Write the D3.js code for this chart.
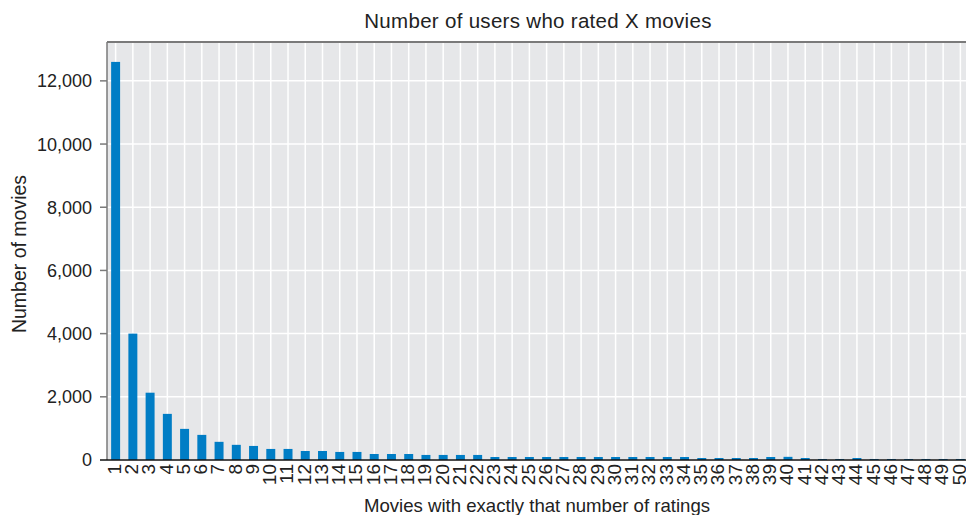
<!DOCTYPE html>
<html>
<head>
<meta charset="utf-8">
<script src="https://cdn.jsdelivr.net/npm/d3@7"></script>
<style>
  html, body { margin: 0; padding: 0; background: #fff; }
  svg { display: block; }
  text { font-family: "Liberation Sans", Arial, Helvetica, sans-serif; fill: #222; }
</style>
</head>
<body>
<svg id="chart" width="966" height="515"></svg>
<script>
// ---- data ----
const categories = d3.range(1, 51).map(String);
const movieCounts = [
  12600, 4000, 2130, 1460, 985, 795, 575, 480, 445, 350,
  350, 285, 285, 255, 255, 190, 190, 190, 160, 160,
  160, 160, 95, 95, 95, 95, 95, 95, 95, 95,
  95, 95, 95, 95, 63, 63, 63, 63, 95, 100,
  63, 32, 32, 63, 32, 32, 32, 32, 32, 32
];
const yTickValues = [0, 2000, 4000, 6000, 8000, 10000, 12000];
const titleText = "Number of users who rated X movies";
const xTitleText = "Movies with exactly that number of ratings";
const yTitleText = "Number of movies";

// ---- layout ----
const L = 107, T = 42, B = 460, R = 969;
const svg = d3.select("#chart");

const x = d3.scaleBand().domain(categories).range([L, R]).paddingInner(0.48).paddingOuter(0.24);
const y = d3.scaleLinear().domain([0, 13230]).range([B, T]);

// panel background
svg.append("rect").attr("x", L).attr("y", T).attr("width", R - L).attr("height", B - T).attr("fill", "#e6e7e9");

// gridlines
svg.append("g").selectAll("line").data(yTickValues).join("line")
  .attr("x1", L).attr("x2", R).attr("y1", d => y(d)).attr("y2", d => y(d))
  .attr("stroke", "#fff").attr("stroke-width", 1.5);
svg.append("g").selectAll("line").data(categories).join("line")
  .attr("x1", d => x(d) + x.bandwidth() / 2).attr("x2", d => x(d) + x.bandwidth() / 2)
  .attr("y1", T).attr("y2", B)
  .attr("stroke", "#fff").attr("stroke-width", 1.5);

// bars
svg.append("g").selectAll("rect").data(categories).join("rect")
  .attr("x", d => x(d))
  .attr("width", x.bandwidth())
  .attr("y", (d, i) => y(movieCounts[i]))
  .attr("height", (d, i) => B - y(movieCounts[i]))
  .attr("fill", "#007dc5");

// panel border (top, left)
svg.append("line").attr("x1", L).attr("x2", R).attr("y1", T).attr("y2", T).attr("stroke", "#7a7a7a").attr("stroke-width", 2);
svg.append("line").attr("x1", L).attr("x2", L).attr("y1", T).attr("y2", B).attr("stroke", "#7a7a7a").attr("stroke-width", 1.5);

// y axis ticks + labels
const yAxis = svg.append("g");
yAxis.selectAll("line").data(yTickValues.filter(d => d > 0)).join("line")
  .attr("x1", 100).attr("x2", L).attr("y1", d => y(d)).attr("y2", d => y(d))
  .attr("stroke", "#7a7a7a").attr("stroke-width", 1.5);
yAxis.selectAll("text").data(yTickValues).join("text")
  .attr("x", 92).attr("y", d => y(d)).attr("dy", "0.36em")
  .attr("text-anchor", "end").style("font-size", "18px")
  .text(d3.format(","));

// x axis line (black)
svg.append("line").attr("x1", 100).attr("x2", R).attr("y1", B).attr("y2", B).attr("stroke", "#111").attr("stroke-width", 1.5);

// x tick labels rotated
svg.append("g").selectAll("text").data(categories).join("text")
  .attr("transform", d => `translate(${x(d) + x.bandwidth() / 2 - 1.5},${B + 4}) rotate(-90)`)
  .attr("dy", "0.36em").attr("text-anchor", "end").style("font-size", "19px")
  .text(d => d);

// titles
svg.append("text").attr("x", 538).attr("y", 28).attr("text-anchor", "middle")
  .style("font-size", "20.5px").style("letter-spacing", "0.3px").text(titleText);
svg.append("text").attr("x", 537).attr("y", 512).attr("text-anchor", "middle")
  .style("font-size", "18.6px").text(xTitleText);
svg.append("text").attr("transform", "translate(26,254) rotate(-90)").attr("text-anchor", "middle")
  .style("font-size", "19.5px").text(yTitleText);
</script>
</body>
</html>
